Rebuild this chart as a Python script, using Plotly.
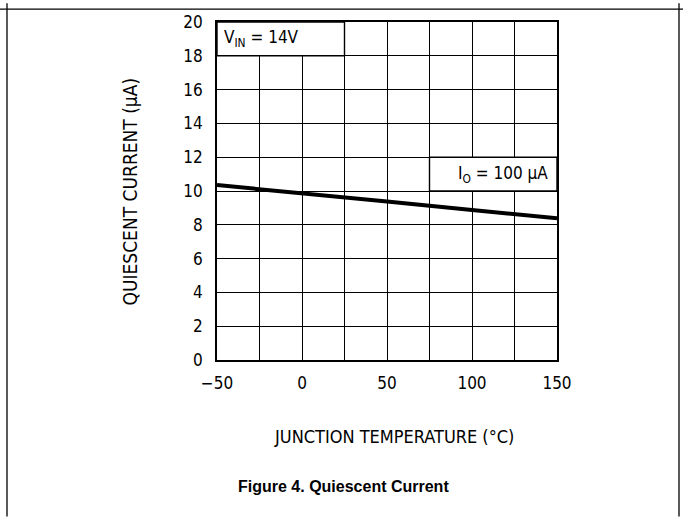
import plotly.graph_objects as go

temps = [-50, 0, 50, 100, 150]
current = [10.35, 9.88, 9.38, 8.88, 8.38]
x_ticks = [-50, 0, 50, 100, 150]
y_ticks = [0, 2, 4, 6, 8, 10, 12, 14, 16, 18, 20]

FONT = "DejaVu Sans Condensed, Liberation Sans Narrow, sans-serif"

L, R, T, B = 217, 557, 19, 360
W, H = 683, 518

def px(x):
    return (x - L) / (R - L)

def py(y):
    return (B - y) / (B - T)

fig = go.Figure()
fig.add_trace(go.Scatter(x=temps, y=current, mode="lines",
                         line=dict(color="black", width=4), showlegend=False,
                         hoverinfo="skip"))

axis_common = dict(showgrid=True, gridcolor="black", gridwidth=1.3,
                   showline=True, linecolor="black", linewidth=1.6, mirror=True,
                   zeroline=False, ticks="",
                   tickfont=dict(family=FONT, size=17, color="black"))

fig.update_xaxes(range=[-50, 150], tickvals=x_ticks, **axis_common)
fig.update_yaxes(range=[0, 20], tickvals=y_ticks, **axis_common)
fig.update_xaxes(minor=dict(dtick=25, tick0=-50, showgrid=True,
                            gridcolor="black", gridwidth=1.3),
                 ticklabelstandoff=7)
fig.update_yaxes(ticklabelstandoff=9)

shapes = []
shapes.append(dict(type="rect", xref="x", yref="y", x0=-50, x1=25, y0=18, y1=20,
                   fillcolor="white", line=dict(color="black", width=1.4), layer="above"))
shapes.append(dict(type="rect", xref="x", yref="y", x0=75, x1=150, y0=10, y1=12,
                   fillcolor="white", line=dict(color="black", width=1.4), layer="above"))
shapes.append(dict(type="line", xref="paper", yref="paper", x0=px(7), x1=px(7),
                   y0=py(H), y1=py(0), line=dict(color="black", width=1.3)))
shapes.append(dict(type="line", xref="paper", yref="paper", x0=px(679), x1=px(679),
                   y0=py(H), y1=py(0), line=dict(color="black", width=1.3)))
shapes.append(dict(type="line", xref="paper", yref="paper", x0=px(0), x1=px(W),
                   y0=py(6), y1=py(6), line=dict(color="black", width=1.3)))

annotations = [
    dict(x=-47, y=19, xref="x", yref="y", xanchor="left", yanchor="middle",
         text="V<sub>IN</sub> = 14V", showarrow=False,
         font=dict(family=FONT, size=17, color="black")),
    dict(x=146, y=11, xref="x", yref="y", xanchor="right", yanchor="middle",
         text="I<sub>O</sub> = 100 \u00b5A", showarrow=False,
         font=dict(family=FONT, size=17, color="black")),
    dict(x=px(394), y=py(437), xref="paper", yref="paper", xanchor="center",
         yanchor="middle", text="JUNCTION TEMPERATURE (\u00b0C)", showarrow=False,
         font=dict(family=FONT, size=18, color="black")),
    dict(x=px(130), y=py(190), xref="paper", yref="paper", xanchor="center",
         yanchor="middle", text="QUIESCENT CURRENT (\u00b5A)", showarrow=False,
         textangle=-90, font=dict(family=FONT, size=19, color="black")),
    dict(x=px(343), y=py(488), xref="paper", yref="paper", xanchor="center",
         yanchor="middle", text="<b>Figure 4. Quiescent Current</b>", showarrow=False,
         font=dict(family="Liberation Sans, Arial, sans-serif", size=16, color="black")),
]

fig.update_layout(width=W, height=H, margin=dict(l=L, r=W - R, t=T, b=H - B),
                  plot_bgcolor="white", paper_bgcolor="white",
                  shapes=shapes, annotations=annotations, showlegend=False)

fig.write_html("out.html", config={"displayModeBar": False},
               post_script="document.body.style.margin='0';document.body.style.overflow='hidden';")
